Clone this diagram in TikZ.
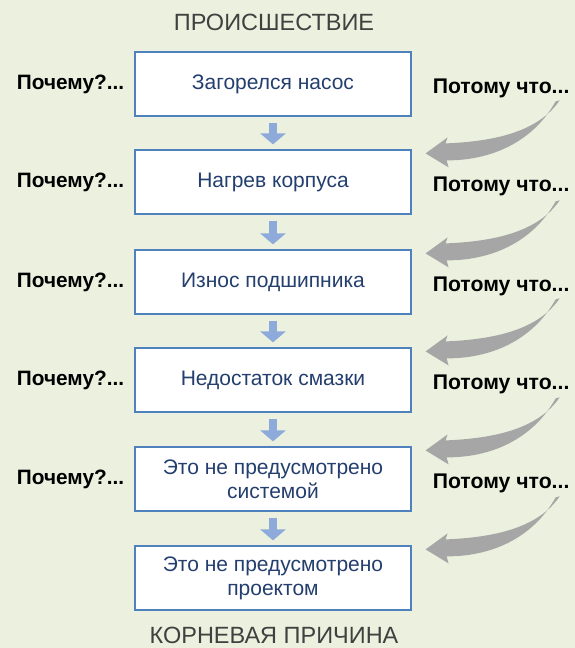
\documentclass[tikz,border=0pt]{standalone}
\usepackage{fontspec}
\setmainfont{Liberation Sans}
\usetikzlibrary{arrows.meta,calc}
\definecolor{bg}{HTML}{EBF1DE}
\definecolor{boxline}{HTML}{4F81BD}
\definecolor{boxtext}{HTML}{243F6E}
\definecolor{blarrow}{HTML}{8EAADB}
\definecolor{grarrow}{HTML}{A6A6A6}
\definecolor{titlecol}{HTML}{404040}
\begin{document}
\begin{tikzpicture}[x=1pt,y=-1pt,
 stepbox/.style={draw=boxline, line width=1.2pt, fill=white, minimum width=276pt, minimum height=64pt, inner sep=0pt, align=center, text=boxtext, font=\fontsize{21}{24}\selectfont},
 why/.style={font=\bfseries\fontsize{20.8}{24}\selectfont, anchor=east, inner sep=0pt},
 because/.style={font=\bfseries\fontsize{21.2}{24}\selectfont, anchor=west, inner sep=0pt},
 titletext/.style={text=titlecol, font=\fontsize{23.5}{28}\selectfont},
 downarrow/.style={draw=blarrow, line width=8pt, -{Triangle[width=25pt,length=11pt]}, shorten <=6pt, shorten >=5pt},
 curvearrow/.style={fill=grarrow}
]
\fill[bg] (0,0) rectangle (575,648);
\useasboundingbox (0,0) rectangle (575,648);
\node[titletext] (top) at (274,22) {ПРОИСШЕСТВИЕ};
\node[stepbox] (b1) at (273,84) {Загорелся насос};
\node[stepbox] (b2) at (273,182) {Нагрев корпуса};
\node[stepbox] (b3) at (273,282) {Износ подшипника};
\node[stepbox] (b4) at (273,380) {Недостаток смазки};
\node[stepbox] (b5) at (273,479) {Это не предусмотрено\\системой};
\node[stepbox] (b6) at (273,578) {Это не предусмотрено\\проектом};
\node[titletext] (bottom) at (274,635) {КОРНЕВАЯ ПРИЧИНА};
\foreach \a/\b in {b1/b2,b2/b3,b3/b4,b4/b5,b5/b6}{\draw[downarrow] (\a) -- (\b);}
\foreach \i in {1,...,5}{
  \node[why] (w\i) at ($(b\i.west)+(-10,0)$) {Почему?...};
  \node[because] (c\i) at ($(b\i.east)+(21,4)$) {Потому что...};
}
\foreach \i in {2,...,6}{
  \begin{scope}[shift={(b\i.north east)}]
    \fill[curvearrow] (14,4) -- (36,-12) -- (34,-6) .. controls (84,-8) and (127,-18) .. (148,-49) -- (144,-48) .. controls (124,-12) and (86,11) .. (35,11) -- (37,18) -- cycle;
  \end{scope}
}
\end{tikzpicture}
\end{document}
